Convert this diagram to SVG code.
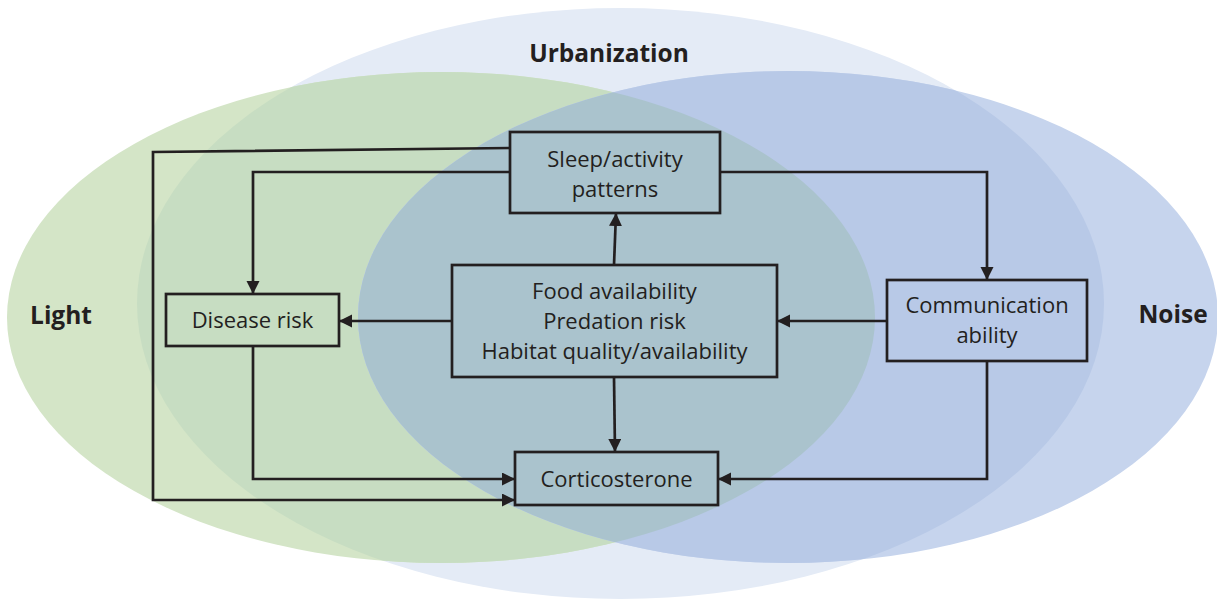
<svg xmlns="http://www.w3.org/2000/svg" width="1217" height="606" viewBox="0 0 1217 606">
<style>
.box{fill:none;stroke:#231f20;stroke-width:2.7}
.t{font-family:"Open Sans","Liberation Sans",sans-serif;font-size:22px;fill:#231f20;text-anchor:middle}
.lbl{font-family:"Open Sans","Liberation Sans",sans-serif;font-size:24.5px;font-weight:bold;fill:#231f20;text-anchor:middle}
.c{fill:none;stroke:#231f20;stroke-width:2.7}
</style>
<defs>
<marker id="ah" markerUnits="userSpaceOnUse" markerWidth="14" markerHeight="14" refX="13" refY="6.5" orient="auto">
<path d="M0,0 L13,6.5 L0,13 z" fill="#231f20"/>
</marker>
<clipPath id="cU"><ellipse cx="620.5" cy="303.5" rx="483.5" ry="295.5"/></clipPath>
<clipPath id="cG"><ellipse cx="441" cy="317.5" rx="434" ry="245.5"/></clipPath>
</defs>
<rect width="1217" height="606" fill="#ffffff"/>
<g id="sets">
<ellipse id="urbanization-set" cx="620.5" cy="303.5" rx="483.5" ry="295.5" fill="#e4ebf6"/>
<ellipse id="light-set" cx="441" cy="317.5" rx="434" ry="245.5" fill="#d4e5c7"/>
<g clip-path="url(#cU)"><ellipse cx="441" cy="317.5" rx="434" ry="245.5" fill="#c7ddc2"/></g>
<ellipse id="noise-set" cx="788" cy="317" rx="430" ry="246" fill="#c6d4ed"/>
<g clip-path="url(#cU)"><ellipse cx="788" cy="317" rx="430" ry="246" fill="#b8c9e7"/></g>
<g clip-path="url(#cG)"><ellipse cx="788" cy="317" rx="430" ry="246" fill="#aac3cd"/></g>
<text class="lbl" x="609" y="62">Urbanization</text>
<text class="lbl" x="61" y="324">Light</text>
<text class="lbl" x="1173" y="323">Noise</text>
</g>
<g id="connectors">
<path class="c" d="M510,148 L153,152 L153,500 L515,500" marker-end="url(#ah)"/>
<path class="c" d="M510,172 L253,172 L253,294" marker-end="url(#ah)"/>
<path class="c" d="M720,172 L987,172 L987,280" marker-end="url(#ah)"/>
<path class="c" d="M614,265 L616,213" marker-end="url(#ah)"/>
<path class="c" d="M452,321 L339,321" marker-end="url(#ah)"/>
<path class="c" d="M887,321 L777,321" marker-end="url(#ah)"/>
<path class="c" d="M614,377 L615,452" marker-end="url(#ah)"/>
<path class="c" d="M253,346 L253,479 L515,479" marker-end="url(#ah)"/>
<path class="c" d="M987,361 L987,479 L718,479" marker-end="url(#ah)"/>
</g>
<g id="sleep">
<rect class="box" x="510" y="132" width="210" height="81"/>
<text class="t" x="615" y="167">Sleep/activity</text>
<text class="t" x="615" y="197">patterns</text>
</g>
<g id="food">
<rect class="box" x="452" y="265" width="325" height="112"/>
<text class="t" x="614.5" y="299">Food availability</text>
<text class="t" x="614.5" y="329">Predation risk</text>
<text class="t" x="614.5" y="359">Habitat quality/availability</text>
</g>
<g id="disease">
<rect class="box" x="166" y="294" width="173" height="52"/>
<text class="t" x="252.5" y="328">Disease risk</text>
</g>
<g id="communication">
<rect class="box" x="887" y="280" width="200" height="81"/>
<text class="t" x="987" y="313">Communication</text>
<text class="t" x="987" y="343">ability</text>
</g>
<g id="corticosterone">
<rect class="box" x="515" y="452" width="203" height="53"/>
<text class="t" x="616.5" y="487">Corticosterone</text>
</g>
</svg>
